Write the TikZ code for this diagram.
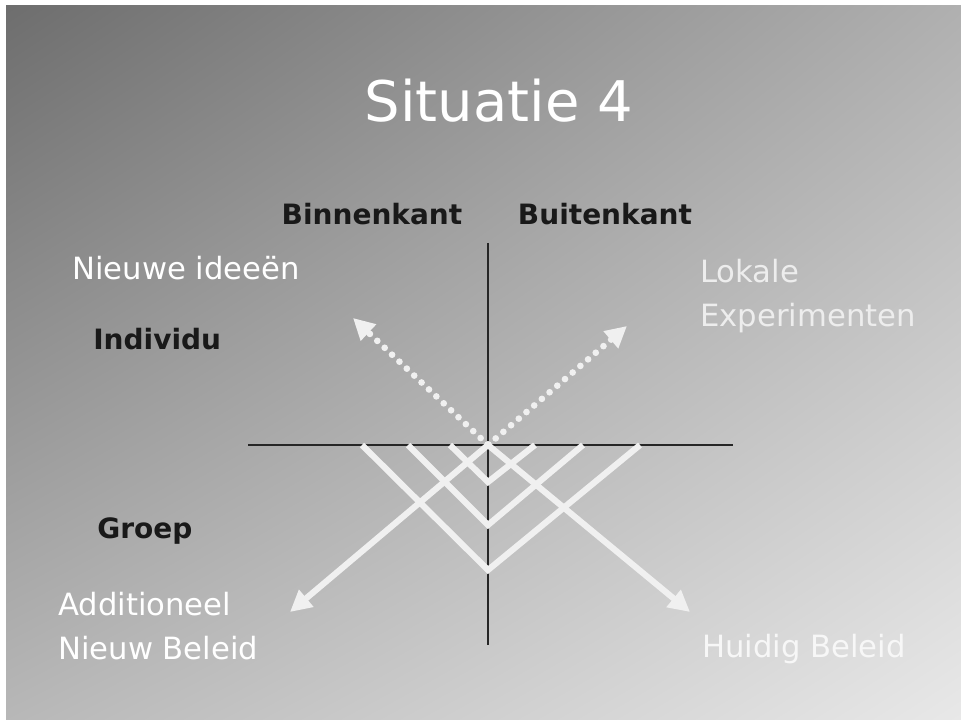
\documentclass[tikz,border=0pt]{standalone}
\usepackage{fontspec}
\setmainfont{DejaVu Sans}
\usepackage{tikz}
\usetikzlibrary{arrows.meta, calc, shadings}
\tikzset{
  axisline/.style={draw=black!85, line width=1pt},
  flow/.style={draw=white!94!black, line width=4.6pt},
  flowarrow/.style={flow, -{Triangle[length=16pt,width=16pt]}},
  dotflow/.style={draw=white!94!black, line width=5pt, line cap=round, dash pattern=on 0pt off 7.6pt, -{Triangle[length=16pt,width=16pt]}},
  lighttext/.style={text=white, font=\fontsize{23}{33}\selectfont, align=left, inner sep=0pt},
  darktext/.style={text=black!90, font=\fontsize{21}{24}\selectfont\bfseries, inner sep=0pt}
}

\begin{document}
\begin{tikzpicture}[x=0.75pt, y=-0.75pt]
    % Vaste afmetingen van het plaatje
    \useasboundingbox (0,0) rectangle (961,720);
    \fill[white] (0,0) rectangle (961,720);
    % Grijze achtergrond met verloop
    \shade[upper left=black!57, upper right=black!31, lower left=black!28, lower right=black!9] (6,6) rectangle (961,720);

    % Titel
    \node[text=white, font=\fontsize{42}{48}\selectfont, anchor=base, inner sep=0pt] (titel) at (499,122) {Situatie 4};

    % Assen
    \coordinate (C) at (488,445);
    \coordinate (asL) at (248,445);
    \coordinate (asR) at (733,445);
    \coordinate (asT) at (488,243);
    \coordinate (asB) at (488,645);
    \draw[axisline] (asL) -- (asR);
    \draw[axisline, line width=1.3pt] (asT) -- (asB);

    % De drie V-vormen onder de as (van klein naar groot)
    \foreach \lx/\vy/\rx [count=\k] in {450/482/535, 408/525/583, 362/570/640} {
        \coordinate (vl\k) at (\lx,445);
        \coordinate (vb\k) at (488,\vy);
        \coordinate (vr\k) at (\rx,445);
        \draw[flow, line join=miter] (vl\k) -- (vb\k) -- (vr\k);
    }

    % Lange pijlen naar beneden
    \coordinate (pijlL) at (290,612);
    \coordinate (pijlR) at (690,612);
    \draw[flowarrow] (C) -- (pijlL);
    \draw[flowarrow] (C) -- (pijlR);

    % Gestippelde pijlen naar boven
    \coordinate (stipL) at (353,318);
    \coordinate (stipR) at (627,326);
    \draw[dotflow] (C) -- (stipL);
    \draw[dotflow] (C) -- (stipR);
    \fill[white!94!black] (C) circle (3pt);

    % Labels
    \node[darktext, anchor=base] (binnen) at (372,225) {Binnenkant};
    \node[darktext, anchor=base] (buiten) at (605,225) {Buitenkant};
    \node[darktext, anchor=base west] (individu) at (93,350) {Individu};
    \node[darktext, anchor=base west] (groep) at (97,538) {Groep};
    \node[lighttext, anchor=base west] (ideeen) at (72,280) {Nieuwe ideeën};
    \node[lighttext, anchor=north west, text=white!93!black] (lokaal) at (700,259) {Lokale\\Experimenten};
    \node[lighttext, anchor=north west] (additioneel) at (58,592) {Additioneel\\Nieuw Beleid};
    \node[lighttext, anchor=base west, text=white!97!black] (huidig) at (702,657) {Huidig Beleid};
\end{tikzpicture}
\end{document}
